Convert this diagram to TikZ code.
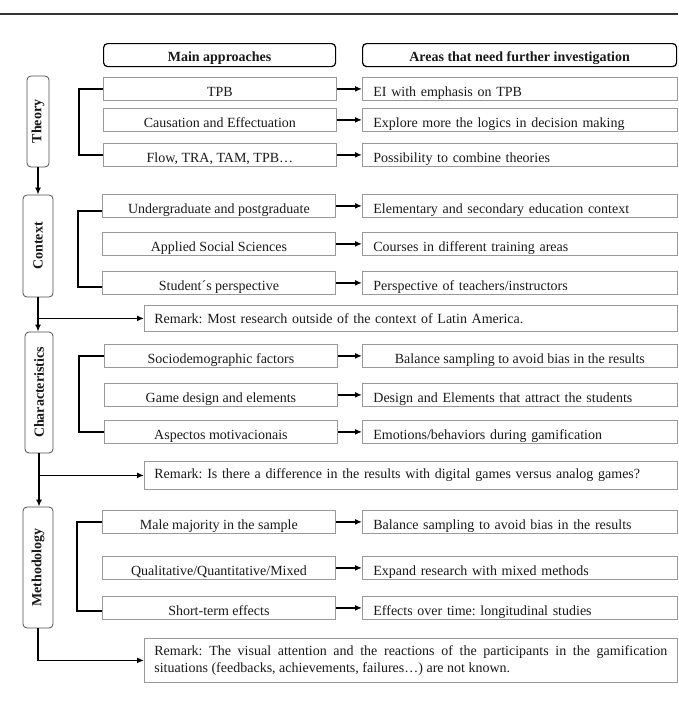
\documentclass[tikz,border=0pt]{standalone}
\usepackage{fontspec}
\usepackage{graphicx}
\setmainfont{Liberation Serif}
\usetikzlibrary{arrows.meta}
\newcommand\mkbox[6]{\node[#5, anchor=north west] (#1) at (#2,#3) {#6};}
\begin{document}
\frenchspacing
\begin{tikzpicture}[x=1pt,y=-1pt,
  txt/.style={font=\fontsize{14}{17}\selectfont\frenchspacing, text=black!90},
  sbox/.style={txt, draw=black!40, line width=0.8pt, inner xsep=0pt, inner ysep=0pt,
    minimum height=23pt, text height=15pt, text depth=0pt},
  lbox/.style={sbox, minimum width=233pt, align=center},
  rbox/.style={sbox, text width=293pt, inner xsep=11pt, align=left},
  cbox/.style={sbox, minimum width=315pt, align=center},
  rmk/.style={txt, draw=black!40, line width=0.8pt, text width=513pt, inner xsep=10pt, inner ysep=0pt, align=left},
  hdr/.style={txt, font=\bfseries\fontsize{14}{17}\selectfont, draw=black, line width=1.2pt,
    rounded corners=4pt, inner sep=0pt, minimum height=23pt, text height=13pt, text depth=0pt},
  cat/.style={txt, font=\bfseries\fontsize{14}{17}\selectfont, draw=black!70, line width=0.8pt,
    rounded corners=4pt, inner sep=0pt},
  arr/.style={-{Latex[length=7pt,width=6pt]}, line width=1.5pt},
  brk/.style={line width=1.6pt}]
\useasboundingbox (0,0) rectangle (678,704);
\draw[line width=2pt, black!80] (0,14) -- (678,14);

% headers
\mkbox{h1}{103}{43}{}{hdr, minimum width=232pt}{Main approaches}
\mkbox{h2}{362}{43}{}{hdr, minimum width=314pt}{Areas that need further investigation}

% categories
\node[cat, minimum width=22pt, minimum height=91pt] (theory) at (38,121.5) {\rotatebox{90}{Theory}};
\node[cat, minimum width=30pt, minimum height=102pt] (context) at (38,246) {\rotatebox{90}{Context}};
\node[cat, minimum width=28pt, minimum height=121pt] (charact) at (39,392.5) {\rotatebox{90}{Characteristics}};
\node[cat, minimum width=30pt, minimum height=121pt] (method) at (38,567.5) {\rotatebox{90}{Methodology}};

% theory
\mkbox{t1}{103}{77}{}{lbox}{TPB}
\mkbox{t2}{103}{108}{}{lbox}{Causation and Effectuation}
\mkbox{t3}{103}{143}{}{lbox}{Flow, TRA, TAM, TPB…}
\mkbox{u1}{362}{77}{}{rbox}{EI with emphasis on TPB}
\mkbox{u2}{362}{108}{}{rbox}{Explore more the logics in decision making}
\mkbox{u3}{362}{143}{}{rbox}{Possibility to combine theories}

% context
\mkbox{c1}{102}{194}{}{lbox}{Undergraduate and postgraduate}
\mkbox{c2}{102}{232}{}{lbox}{Applied Social Sciences}
\mkbox{c3}{102}{271}{}{lbox}{Student´s perspective}
\mkbox{d1}{362}{194}{}{rbox}{Elementary and secondary education context}
\mkbox{d2}{362}{232}{}{rbox}{Courses in different training areas}
\mkbox{d3}{362}{271}{}{rbox}{Perspective of teachers/instructors}
\mkbox{r1}{144}{305}{}{rmk, minimum height=26pt}{Remark: Most research outside of the context of Latin America.}

% characteristics
\mkbox{k1}{104}{344}{}{lbox}{Sociodemographic factors}
\mkbox{k2}{104}{383}{}{lbox}{Game design and elements}
\mkbox{k3}{104}{420}{}{lbox}{Aspectos motivacionais}
\mkbox{l1}{362}{344}{}{cbox}{Balance sampling to avoid bias in the results}
\mkbox{l2}{362}{383}{}{rbox}{Design and Elements that attract the students}
\mkbox{l3}{362}{420}{}{rbox}{Emotions/behaviors during gamification}
\mkbox{r2}{144}{461}{}{rmk, minimum height=28pt}{Remark: Is there a difference in the results with digital games versus analog games?}

% methodology
\mkbox{m1}{102}{510}{}{lbox}{Male majority in the sample}
\mkbox{m2}{102}{556}{}{lbox}{Qualitative/Quantitative/Mixed}
\mkbox{m3}{102}{596}{}{lbox}{Short-term effects}
\mkbox{n1}{362}{510}{}{rbox}{Balance sampling to avoid bias in the results}
\mkbox{n2}{362}{556}{}{rbox}{Expand research with mixed methods}
\mkbox{n3}{362}{596}{}{rbox}{Effects over time: longitudinal studies}
\mkbox{r3}{144}{638}{}{rmk, minimum height=44pt, align=justify}{Remark: The visual attention and the reactions of the participants in the gamification\linebreak situations (feedbacks, achievements, failures…) are not known.}

% horizontal arrows
\foreach \a/\b in {t1/u1,t2/u2,t3/u3,c1/d1,c2/d2,c3/d3,k1/l1,k2/l2,k3/l3,m1/n1,m2/n2,m3/n3}
  \draw[arr] (\a.east) -- (\b.west);

% brackets
\draw[brk] (t1.west) -- ++(-24,0) |- (t3.west);
\draw[brk] (c1.west) ++(0,5) -- ++(-24,0) |- ([yshift=-4pt]c3.west);
\draw[brk] (k1.west) -- ++(-25,0) |- (k3.west);
\draw[brk] (m1.west) -- ++(-25,0) |- ([yshift=-3pt]m3.west);

% vertical flow
\draw[arr] (theory.south) -- (context.north);
\draw[arr] (context.south) -- (context.south |- charact.north);
\draw[arr] (context.south |- r1.west) -- (r1.west);
\draw[arr] (charact.south) -- (charact.south |- method.north);
\draw[arr] (charact.south |- r2.west) -- (r2.west);
\draw[arr] (method.south) |- (r3.west);
\end{tikzpicture}
\end{document}
